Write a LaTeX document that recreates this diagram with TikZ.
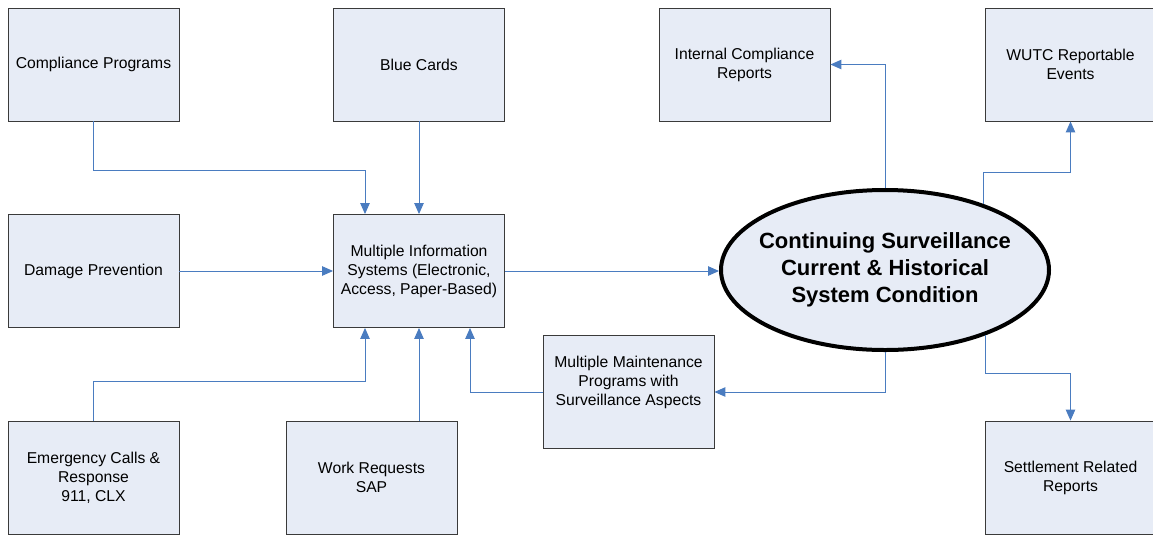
\documentclass[tikz,border=0pt]{standalone}
\usepackage{fontspec}
\setmainfont{Liberation Sans}
\usetikzlibrary{arrows.meta,shapes.geometric}
\definecolor{boxfill}{HTML}{E7ECF6}
\definecolor{boxline}{HTML}{3A3A3A}
\definecolor{connblue}{HTML}{4A7CC0}
\begin{document}
\begin{tikzpicture}[x=1pt,y=-1pt,
  boxfont/.style={font=\fontsize{15.7}{19}\selectfont},
  box/.style={draw=boxline,line width=0.9pt,fill=boxfill,rectangle,minimum width=171pt,minimum height=113pt,inner sep=2pt,align=center,boxfont},
  boxtext/.style={inner sep=0pt,align=center,boxfont},
  oval/.style={draw=black,line width=4pt,fill=boxfill,ellipse,minimum width=328pt,minimum height=160pt,inner sep=0pt},
  ovaltext/.style={inner sep=0pt,align=center,font=\fontsize{22}{27}\selectfont\bfseries},
  conn/.style={draw=connblue,line width=1pt,-{Triangle[length=11pt,width=9.5pt]}}]
\useasboundingbox[fill=white] (0,0) rectangle (1153,539);
\node[box] (cp) at (93.5,64.5) {Compliance Programs};
\node[box] (bc) at (419,64.5) {Blue Cards};
\node[box] (icr) at (744.5,64.5) {Internal Compliance\\Reports};
\node[box] (wu) at (1070.5,64.5) {WUTC Reportable\\Events};
\node[box] (dp) at (93.5,271) {Damage Prevention};
\node[box] (mis) at (419,271) {Multiple Information\\Systems (Electronic,\\Access, Paper-Based)};
\node[oval] (el) at (885,270) {};
\node[ovaltext] (elt) at (el.center) {Continuing Surveillance\\Current \& Historical\\System Condition};
\node[box] (mm) at (628.5,392) {};
\node[boxtext] (mmt) at ([yshift=10pt]mm.center) {Multiple Maintenance\\Programs with\\Surveillance Aspects};
\node[box] (ec) at (93.5,477.5) {Emergency Calls \&\\Response\\911, CLX};
\node[box] (wr) at (371.5,477.5) {Work Requests\\SAP};
\node[box] (sr) at (1070.5,477.5) {Settlement Related\\Reports};
% inputs to information systems
\draw[conn] (cp.south) -- ++(0,49) -| ([xshift=-54pt]mis.north);
\draw[conn] (bc.south) -- (mis.north);
\draw[conn] (dp.east) -- (mis.west);
\draw[conn] (ec.north) -- ++(0,-39) -| ([xshift=-54pt]mis.south);
\draw[conn] (wr.north -| mis.south) -- (mis.south);
\draw[conn] (mm.west) -| ([xshift=51pt]mis.south);
% information systems to surveillance
\draw[conn] (mis.east) -- (mis.east -| el.west);
% outputs of surveillance
\draw[conn] (el.north) |- (icr.east);
\draw[conn] (el.34) |- ([yshift=-51pt]wu.south) -- (wu.south);
\draw[conn] (el.-33) |- ([yshift=47pt]sr.north) -- (sr.north);
\draw[conn] (el.south) |- (mm.east);
\end{tikzpicture}
\end{document}
